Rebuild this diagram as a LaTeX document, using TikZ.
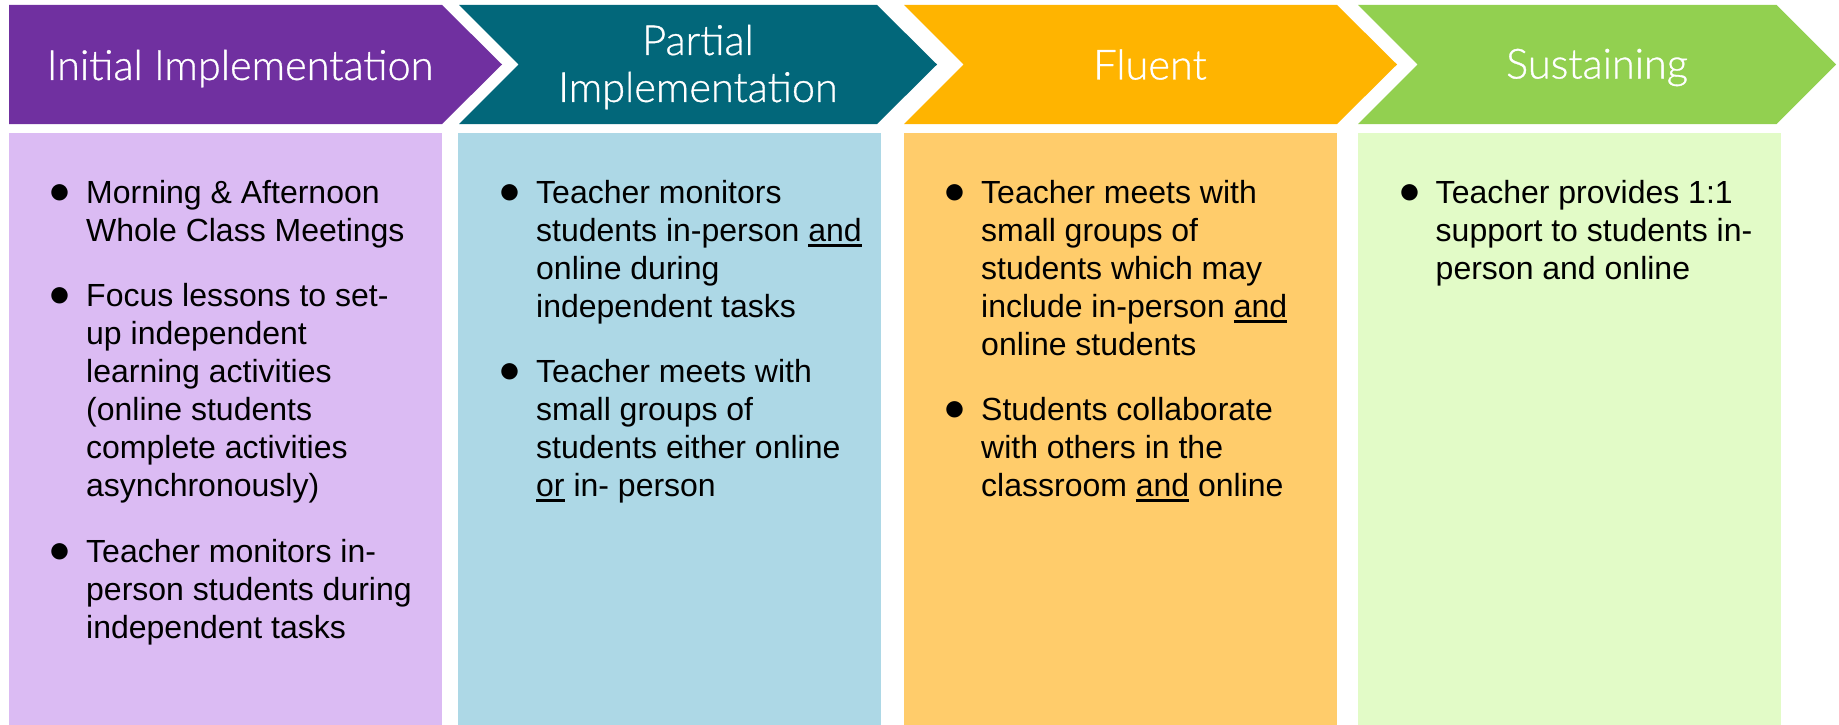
\documentclass[tikz,border=0pt]{standalone}
\usepackage{fontspec}
\setmainfont{Liberation Sans}
\newfontfamily\hdrfont{Lato Light}[FakeBold=0.8]
\definecolor{cPurple}{HTML}{7030A0}
\definecolor{cPurpleL}{HTML}{DBBBF3}
\definecolor{cTeal}{HTML}{02677A}
\definecolor{cTealL}{HTML}{ADD8E6}
\definecolor{cOrange}{HTML}{FFB400}
\definecolor{cOrangeL}{HTML}{FFCC6B}
\definecolor{cGreen}{HTML}{92D050}
\definecolor{cGreenL}{HTML}{E2FBC7}
\newcommand\ulword[1]{\setbox0\hbox{#1}\rlap{\rule[-5.5pt]{\wd0}{2.8pt}}#1}
\tikzset{
  hdr/.style={font=\hdrfont\fontsize{41.5}{47}\selectfont, text=white, inner sep=0pt, anchor=base},
  bodytxt/.style={font=\fontsize{32}{38}\selectfont, inner sep=0pt, anchor=base west},
  bul/.style={font=\fontsize{38}{38}\selectfont, inner sep=0pt, anchor=base},
}
\newcommand\lines[1]{\begin{tabular}[t]{@{}l@{}}#1\end{tabular}}
\begin{document}
\begin{tikzpicture}[x=1pt,y=-1pt]
\useasboundingbox (0,0) rectangle (1839,725);
\fill[white] (0,0) rectangle (1839,725);
% chevrons
\fill[cPurple] (9,5) -- (442,5) -- (502,64.5) -- (442,124) -- (9,124) -- cycle;
\fill[cTeal] (459,5) -- (877,5) -- (937,64.5) -- (877,124) -- (459,124) -- (518.5,64.5) -- cycle;
\fill[cOrange] (904,5) -- (1337,5) -- (1397,64.5) -- (1337,124) -- (904,124) -- (963.5,64.5) -- cycle;
\fill[cGreen] (1358,5) -- (1776.5,5) -- (1836,64.5) -- (1776.5,124) -- (1358,124) -- (1417.5,64.5) -- cycle;
% body boxes
\fill[cPurpleL] (9,133) rectangle (442,725);
\fill[cTealL] (458,133) rectangle (881,725);
\fill[cOrangeL] (904,133) rectangle (1337,725);
\fill[cGreenL] (1358,133) rectangle (1781,725);
% headers
\node[hdr] (h1) at (240,80) {Initial Implementation};
\node[hdr] (h2) at (698,55) {\begin{tabular}[t]{@{}c@{}}Partial\\Implementation\end{tabular}};
\node[hdr] (h3) at (1150,79.5) {Fluent};
\node[hdr] (h4) at (1597,78.5) {Sustaining};
% box 1
\node[bul] (p1a) at (60,203) {●};
\node[bodytxt] (t1a) at (86,203) {\lines{Morning \& Afternoon\\Whole Class Meetings}};
\node[bul] (p1b) at (60,306) {●};
\node[bodytxt] (t1b) at (86,306) {\lines{Focus lessons to set-\\up independent\\learning activities\\(online students\\complete activities\\asynchronously)}};
\node[bul] (p1c) at (60,562) {●};
\node[bodytxt] (t1c) at (86,562) {\lines{Teacher monitors in-\\person students during\\independent tasks}};
% box 2
\node[bul] (p2a) at (509.5,203) {●};
\node[bodytxt] (t2a) at (536,203) {\lines{Teacher monitors\\students in-person \ulword{and}\\online during\\independent tasks}};
\node[bul] (p2b) at (509.5,382) {●};
\node[bodytxt] (t2b) at (536,382) {\lines{Teacher meets with\\small groups of\\students either online\\\ulword{or} in- person}};
% box 3
\node[bul] (p3a) at (955,203) {●};
\node[bodytxt] (t3a) at (981,203) {\lines{Teacher meets with\\small groups of\\students which may\\include in-person \ulword{and}\\online students}};
\node[bul] (p3b) at (955,420) {●};
\node[bodytxt] (t3b) at (981,420) {\lines{Students collaborate\\with others in the\\classroom \ulword{and} online}};
% box 4
\node[bul] (p4a) at (1409.5,203) {●};
\node[bodytxt] (t4a) at (1435.5,203) {\lines{Teacher provides 1:1\\support to students in-\\person and online}};
\end{tikzpicture}
\end{document}
